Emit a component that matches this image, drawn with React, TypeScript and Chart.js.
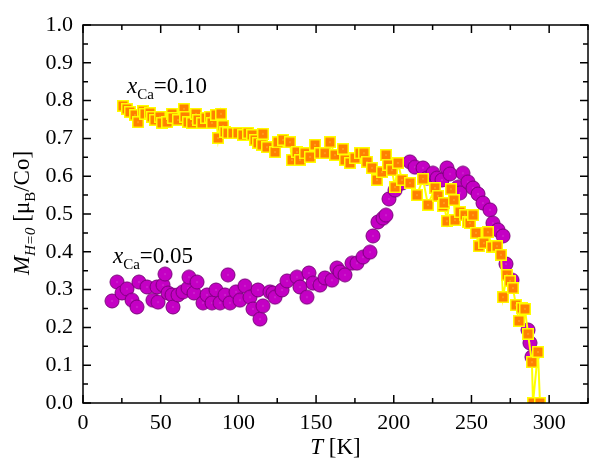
import React, { useEffect, useRef } from 'react';
import { Chart, registerables } from 'chart.js';

Chart.register(...registerables);

// x_Ca = 0.10 (orange squares, yellow line)
const tempCa010 = [
  25.7, 28.3, 30.2, 33.5, 35.4, 38.6, 39.9, 43.1, 44.4, 46.3, 49.5, 50.8, 54.1, 57.3, 57.9, 61.1,
  65.0, 65.6, 67.6, 70.1, 72.7, 74.0, 76.6, 79.2, 81.7, 83.0, 85.6, 86.9, 88.8, 90.1, 91.4, 93.3,
  96.5, 99.7, 103.0, 106.2, 108.8, 110.7, 112.6, 115.2, 115.8, 118.4, 123.6, 125.5, 128.7, 133.2,
  134.5, 137.7, 139.6, 142.9, 146.1, 149.3, 152.5, 155.7, 158.9, 162.2, 167.3, 168.6, 171.8, 175.0,
  178.2, 180.8, 182.8, 186.0, 189.2, 192.4, 195.0, 196.3, 198.8, 200.8, 202.7, 205.3, 210.4, 214.9,
  218.8, 222.0, 226.5, 228.4, 231.7, 232.3, 234.2, 236.8, 238.7, 239.4, 242.6, 245.8, 247.7, 249.0,
  251.0, 252.9, 254.8, 258.0, 260.6, 263.2, 266.4, 269.0, 270.3, 272.8, 274.8, 276.7, 278.6, 280.6,
  282.5, 284.4, 286.4, 288.9, 289.6, 292.8, 294.1,
];
const magCa010 = [
  0.786, 0.778, 0.770, 0.762, 0.743, 0.772, 0.765, 0.767, 0.757, 0.749, 0.757, 0.741, 0.743, 0.765, 0.754, 0.749,
  0.778, 0.757, 0.743, 0.741, 0.765, 0.749, 0.741, 0.754, 0.757, 0.741, 0.762, 0.701, 0.765, 0.733, 0.717, 0.714,
  0.714, 0.714, 0.709, 0.714, 0.709, 0.696, 0.688, 0.683, 0.712, 0.677, 0.664, 0.690, 0.696, 0.690,
  0.643, 0.664, 0.643, 0.661, 0.651, 0.683, 0.661, 0.661, 0.690, 0.656, 0.672, 0.643, 0.635, 0.648,
  0.661, 0.661, 0.638, 0.622, 0.590, 0.611, 0.656, 0.630, 0.616, 0.571, 0.635, 0.590, 0.582, 0.550,
  0.593, 0.524, 0.569, 0.548, 0.521, 0.529, 0.481, 0.566, 0.537, 0.484, 0.505, 0.497, 0.479, 0.476,
  0.497, 0.450, 0.415, 0.423, 0.452, 0.413, 0.415, 0.392, 0.280, 0.339, 0.323, 0.304, 0.259, 0.217,
  0.251, 0.249, 0.183, 0.108, 0.0, 0.135, 0.0,
];

// x_Ca = 0.05 (purple circles)
const tempCa005 = [
  18.7, 21.9, 25.1, 28.3, 31.5, 34.7, 36.0, 41.2, 45.0, 47.6, 48.3, 51.5, 52.8, 54.7, 57.3, 57.9,
  61.1, 64.3, 67.6, 68.2, 71.4, 73.4, 77.2, 79.8, 83.0, 85.6, 88.2, 91.4, 93.3, 94.6, 98.5, 101.0,
  104.2, 107.5, 109.4, 112.6, 113.9, 115.8, 120.3, 122.3, 123.6, 128.1, 131.3, 137.7, 139.6, 144.1,
  145.4, 148.0, 152.5, 155.7, 160.2, 163.4, 165.4, 168.6, 173.1, 176.3, 180.2, 184.7, 186.6, 189.8,
  193.1, 195.0, 196.9, 200.8, 205.3, 210.4, 213.6, 218.8, 221.4, 225.2, 227.8, 231.0, 234.2, 236.2,
  241.3, 242.6, 244.5, 247.7, 251.0, 254.2, 257.4, 261.9, 263.8, 267.1, 270.3, 272.2, 276.1, 286.4,
  287.6, 288.9,
];
const magCa005 = [
  0.270, 0.320, 0.291, 0.302, 0.272, 0.254, 0.320, 0.307, 0.272, 0.307, 0.267, 0.312, 0.341, 0.291, 0.286, 0.254,
  0.286, 0.294, 0.304, 0.333, 0.291, 0.320, 0.265, 0.286, 0.265, 0.299, 0.265, 0.286, 0.339, 0.265, 0.294, 0.272,
  0.310, 0.280, 0.249, 0.299, 0.222, 0.257, 0.294, 0.291, 0.280, 0.299, 0.323, 0.333, 0.307, 0.280,
  0.344, 0.317, 0.312, 0.331, 0.325, 0.357, 0.347, 0.339, 0.370, 0.370, 0.386, 0.399, 0.442, 0.479,
  0.489, 0.497, 0.540, 0.563, 0.582, 0.638, 0.624, 0.622, 0.595, 0.608, 0.595, 0.590, 0.622, 0.606,
  0.571, 0.556, 0.608, 0.585, 0.569, 0.553, 0.529, 0.511, 0.476, 0.458, 0.442, 0.368, 0.325, 0.193,
  0.159, 0.122,
];

const X_MIN = 0;
const X_MAX = 325;
const Y_MIN = 0;
const Y_MAX = 1;

const SERIF = '"Liberation Serif", "Times New Roman", serif';

function makeSquare(): HTMLCanvasElement {
  const c = document.createElement('canvas');
  c.width = 12;
  c.height = 12;
  const g = c.getContext('2d')!;
  g.fillStyle = '#FF8000';
  g.fillRect(1, 1, 10, 10);
  g.strokeStyle = '#FFFF00';
  g.lineWidth = 1.5;
  g.strokeRect(0.75, 0.75, 10.5, 10.5);
  g.fillStyle = '#FFE066';
  g.fillRect(5.5, 5.5, 1, 1);
  return c;
}

function makeCircle(): HTMLCanvasElement {
  const c = document.createElement('canvas');
  c.width = 16;
  c.height = 16;
  const g = c.getContext('2d')!;
  g.beginPath();
  g.arc(8, 8, 7, 0, Math.PI * 2);
  g.fillStyle = '#C400C4';
  g.fill();
  g.strokeStyle = '#7A007A';
  g.lineWidth = 1;
  g.stroke();
  g.fillStyle = '#E070E0';
  g.fillRect(7.5, 7.5, 1, 1);
  return c;
}

type Run = { t: string; f: string; dy: number };

function runsWidth(ctx: CanvasRenderingContext2D, runs: Run[]) {
  let w = 0;
  for (const r of runs) {
    ctx.font = r.f;
    w += ctx.measureText(r.t).width;
  }
  return w;
}

function drawRuns(ctx: CanvasRenderingContext2D, runs: Run[], x: number, y: number) {
  let cx = x;
  ctx.textBaseline = 'alphabetic';
  ctx.textAlign = 'left';
  for (const r of runs) {
    ctx.font = r.f;
    ctx.fillText(r.t, cx, y + r.dy);
    cx += ctx.measureText(r.t).width;
  }
}

const framePlugin = {
  id: 'frameTicks',
  afterDatasetsDraw(chart: any) {
    const ctx: CanvasRenderingContext2D = chart.ctx;
    const { left, right, top, bottom } = chart.chartArea;
    const xs = chart.scales.x;
    const ys = chart.scales.y;
    ctx.save();
    ctx.strokeStyle = '#000';
    ctx.lineWidth = 1.5;
    ctx.beginPath();
    for (let v = X_MIN; v <= X_MAX; v += 25) {
      const px = xs.getPixelForValue(v);
      const len = v % 50 === 0 ? 8 : 5;
      ctx.moveTo(px, bottom);
      ctx.lineTo(px, bottom - len);
      ctx.moveTo(px, top);
      ctx.lineTo(px, top + len);
    }
    for (let i = 0; i <= 20; i++) {
      const v = i * 0.05;
      const py = ys.getPixelForValue(v);
      const len = i % 2 === 0 ? 8 : 5;
      ctx.moveTo(left, py);
      ctx.lineTo(left + len, py);
      ctx.moveTo(right, py);
      ctx.lineTo(right - len, py);
    }
    ctx.stroke();
    ctx.strokeRect(left, top, right - left, bottom - top);
    ctx.restore();
  },
  afterDraw(chart: any) {
    const ctx: CanvasRenderingContext2D = chart.ctx;
    const xs = chart.scales.x;
    const ys = chart.scales.y;
    const { left, right } = chart.chartArea;
    ctx.save();
    ctx.fillStyle = '#000';

    const big = `23px ${SERIF}`;
    const bigI = `italic 23px ${SERIF}`;
    const sub = `15px ${SERIF}`;

    drawRuns(
      ctx,
      [
        { t: 'x', f: bigI, dy: 0 },
        { t: 'Ca', f: sub, dy: 6 },
        { t: '=0.10', f: big, dy: 0 },
      ],
      xs.getPixelForValue(28.3),
      ys.getPixelForValue(0.82)
    );
    drawRuns(
      ctx,
      [
        { t: 'x', f: bigI, dy: 0 },
        { t: 'Ca', f: sub, dy: 6 },
        { t: '=0.05', f: big, dy: 0 },
      ],
      xs.getPixelForValue(19.3),
      ys.getPixelForValue(0.37)
    );

    // x title
    const tf = `23px ${SERIF}`;
    const tfi = `italic 23px ${SERIF}`;
    const xRuns: Run[] = [
      { t: 'T', f: tfi, dy: 0 },
      { t: ' [K]', f: tf, dy: 0 },
    ];
    const xw = runsWidth(ctx, xRuns);
    drawRuns(ctx, xRuns, (left + right) / 2 - xw / 2, 454);

    // y title
    const yRuns: Run[] = [
      { t: 'M', f: tfi, dy: 0 },
      { t: 'H=0', f: `italic 15px ${SERIF}`, dy: 6 },
      { t: ' [\u03bc', f: tf, dy: 0 },
      { t: 'B', f: `15px ${SERIF}`, dy: 6 },
      { t: '/Co]', f: tf, dy: 0 },
    ];
    const yw = runsWidth(ctx, yRuns);
    ctx.translate(29, 213);
    ctx.rotate(-Math.PI / 2);
    drawRuns(ctx, yRuns, -yw / 2, 0);
    ctx.restore();
  },
};

export default function App() {
  const ref = useRef<HTMLCanvasElement | null>(null);

  useEffect(() => {
    document.body.style.margin = '0';
    const canvas = ref.current;
    if (!canvas) return;
    const sq = makeSquare();
    const ci = makeCircle();
    const chart = new Chart(canvas, {
      type: 'scatter',
      data: {
        datasets: [
          {
            label: 'xCa=0.10',
            data: tempCa010.map((t, i) => ({ x: t, y: magCa010[i] })),
            showLine: true,
            borderColor: '#FFFF00',
            borderWidth: 2,
            backgroundColor: '#FF8000',
            pointStyle: sq as any,
            pointRadius: 6,
            clip: 0,
          },
          {
            label: 'xCa=0.05',
            data: tempCa005.map((t, i) => ({ x: t, y: magCa005[i] })),
            showLine: false,
            borderColor: '#7A007A',
            backgroundColor: '#C400C4',
            pointStyle: ci as any,
            pointRadius: 8,
            clip: 0,
          },
        ],
      },
      options: {
        responsive: false,
        animation: false,
        devicePixelRatio: 1,
        layout: { padding: { top: 25, right: 10, left: 0, bottom: 0 } },
        plugins: {
          legend: { display: false },
          tooltip: { enabled: false },
          title: { display: false },
        },
        events: [],
        scales: {
          x: {
            type: 'linear',
            min: X_MIN,
            max: X_MAX,
            grid: { display: false, drawTicks: false },
            border: { display: false },
            ticks: {
              stepSize: 50,
              includeBounds: false,
              padding: 7,
              color: '#000',
              font: { family: SERIF, size: 22 },
              maxRotation: 0,
              callback: (v: any) => String(v),
            },
            afterFit: (s: any) => {
              s.height = 65;
            },
          },
          y: {
            type: 'linear',
            min: Y_MIN,
            max: Y_MAX,
            grid: { display: false, drawTicks: false },
            border: { display: false },
            ticks: {
              stepSize: 0.1,
              padding: 10,
              color: '#000',
              font: { family: SERIF, size: 22 },
              callback: (v: any) => Number(v).toFixed(1),
            },
            afterFit: (s: any) => {
              s.width = 83;
            },
          },
        },
      },
      plugins: [framePlugin],
    });
    return () => chart.destroy();
  }, []);

  return (
    <div style={{ width: 598, height: 468 }}>
      <canvas ref={ref} width={598} height={468} style={{ display: 'block' }} />
    </div>
  );
}
